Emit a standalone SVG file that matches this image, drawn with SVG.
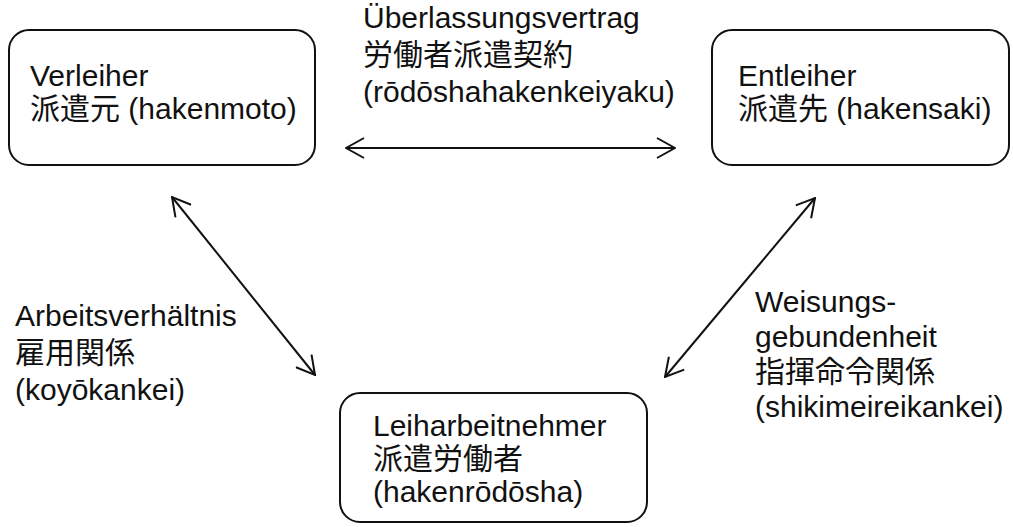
<svg xmlns="http://www.w3.org/2000/svg" width="1013" height="527" viewBox="0 0 1013 527">
<defs>
<style>
.box{fill:#fff;stroke:#111;stroke-width:2}
.t{font-family:"Liberation Sans","Noto Sans CJK JP",Arial,sans-serif;font-size:30px;fill:#111}
.c{stroke:#111;stroke-width:2;fill:none}
</style>
<marker id="ah" viewBox="0 0 20 22" refX="19" refY="11" markerWidth="20" markerHeight="22" markerUnits="userSpaceOnUse" orient="auto-start-reverse">
<path d="M1,1 L19,11 L1,21" fill="none" stroke="#111" stroke-width="2"/>
</marker>
</defs>
<rect width="1013" height="527" fill="#fff"/>
<g id="verleiher">
<rect class="box" x="9" y="30" width="306" height="135" rx="20"/>
<text class="t" x="30" y="86">Verleiher</text>
<text class="t" x="30" y="119">派遣元 (hakenmoto)</text>
</g>
<g id="entleiher">
<rect class="box" x="712" y="30" width="297" height="135" rx="20"/>
<text class="t" x="738" y="86">Entleiher</text>
<text class="t" x="738" y="119">派遣先 (hakensaki)</text>
</g>
<g id="leiharbeitnehmer">
<rect class="box" x="340" y="393" width="307" height="129" rx="20"/>
<text class="t" x="373" y="436">Leiharbeitnehmer</text>
<text class="t" x="373" y="469">派遣労働者</text>
<text class="t" x="373" y="502">(hakenrōdōsha)</text>
</g>
<g id="connectors">
<line class="c" x1="346" y1="148" x2="675" y2="148" marker-start="url(#ah)" marker-end="url(#ah)"/>
<line class="c" x1="172" y1="197" x2="315" y2="375" marker-start="url(#ah)" marker-end="url(#ah)"/>
<line class="c" x1="815" y1="198" x2="665" y2="377" marker-start="url(#ah)" marker-end="url(#ah)"/>
</g>
<g id="label-top">
<text class="t" x="363" y="28">Überlassungsvertrag</text>
<text class="t" x="363" y="65">労働者派遣契約</text>
<text class="t" x="363" y="102">(rōdōshahakenkeiyaku)</text>
</g>
<g id="label-left">
<text class="t" x="15" y="326">Arbeitsverhältnis</text>
<text class="t" x="15" y="363">雇用関係</text>
<text class="t" x="15" y="400">(koyōkankei)</text>
</g>
<g id="label-right">
<text class="t" x="755" y="312">Weisungs-</text>
<text class="t" x="755" y="347">gebundenheit</text>
<text class="t" x="755" y="382">指揮命令関係</text>
<text class="t" x="755" y="417">(shikimeireikankei)</text>
</g>
</svg>
